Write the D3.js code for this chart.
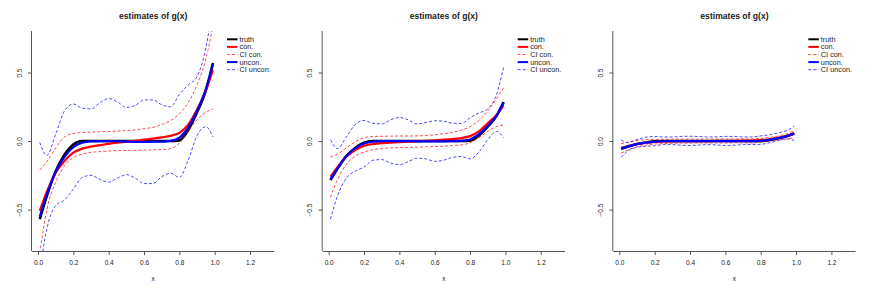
<!DOCTYPE html>
<html>
<head>
<meta charset="utf-8">
<script src="https://cdn.jsdelivr.net/npm/d3@7"></script>
<style>
body { margin: 0; background: #fff; }
text { font-family: "Liberation Sans", Arial, sans-serif; fill: #222; }
</style>
</head>
<body>
<script>
var svgWidth = 872;
var svgHeight = 291;
var panelWidth = svgWidth / 3;
var margins = {top: 31, right: 16.4, bottom: 40, left: 32};

// x grid shared by every curve
var xs = [0.01, 0.05, 0.10, 0.15, 0.20, 0.25, 0.30, 0.35, 0.40, 0.45, 0.50,
          0.55, 0.60, 0.65, 0.70, 0.75, 0.80, 0.85, 0.90, 0.95, 0.99];
var xTicks = [0, 0.2, 0.4, 0.6, 0.8, 1.0, 1.2];
var yTicks = [-0.5, 0, 0.5];
var legendLabels = ["truth", "con.", "CI con.", "uncon.", "CI uncon."];

// panel 1
var truth1 = [-0.57, -0.40, -0.22, -0.10, -0.025, 0, 0, 0, 0, 0, 0, 0, 0, 0, 0, 0, 0.005, 0.08, 0.21, 0.37, 0.57];
var con1 = [-0.51, -0.37, -0.23, -0.145, -0.085, -0.055, -0.04, -0.03, -0.02, -0.012, -0.005, 0.002, 0.01, 0.018, 0.027, 0.038, 0.06, 0.12, 0.23, 0.37, 0.52];
var ciConUp1 = [-0.21, -0.15, -0.05, 0.03, 0.055, 0.062, 0.065, 0.068, 0.07, 0.073, 0.077, 0.082, 0.09, 0.10, 0.12, 0.15, 0.20, 0.28, 0.41, 0.60, 0.84];
var ciConLo1 = [-0.82, -0.50, -0.30, -0.18, -0.12, -0.095, -0.082, -0.077, -0.073, -0.07, -0.068, -0.068, -0.066, -0.064, -0.062, -0.055, -0.015, 0.075, 0.155, 0.21, 0.235];
var uncon1 = [-0.55, -0.39, -0.225, -0.115, -0.045, -0.012, -0.002, 0, 0, -0.002, -0.004, -0.006, -0.006, -0.005, -0.004, 0.002, 0.025, 0.10, 0.22, 0.38, 0.56];
var ciUnconUp1 = [-0.01, -0.105, 0.05, 0.22, 0.27, 0.24, 0.235, 0.28, 0.31, 0.285, 0.245, 0.26, 0.30, 0.30, 0.265, 0.25, 0.34, 0.41, 0.47, 0.68, 1.0];
var ciUnconLo1 = [-0.95, -0.64, -0.47, -0.43, -0.35, -0.265, -0.25, -0.28, -0.30, -0.27, -0.245, -0.27, -0.31, -0.31, -0.26, -0.235, -0.265, -0.14, 0.04, 0.105, 0.03];

// panel 2
var truth2 = [-0.285, -0.20, -0.11, -0.05, -0.012, 0, 0, 0, 0, 0, 0, 0, 0, 0, 0, 0, 0.003, 0.04, 0.105, 0.185, 0.285];
var con2 = [-0.26, -0.19, -0.115, -0.065, -0.035, -0.022, -0.015, -0.012, -0.008, -0.005, -0.002, 0.002, 0.006, 0.01, 0.015, 0.022, 0.036, 0.07, 0.13, 0.19, 0.26];
var ciConUp2 = [-0.115, -0.095, -0.05, -0.005, 0.025, 0.033, 0.035, 0.036, 0.037, 0.037, 0.038, 0.04, 0.046, 0.053, 0.063, 0.08, 0.105, 0.15, 0.22, 0.31, 0.39];
var ciConLo2 = [-0.41, -0.28, -0.17, -0.11, -0.08, -0.063, -0.055, -0.05, -0.048, -0.046, -0.045, -0.042, -0.04, -0.037, -0.033, -0.028, -0.012, 0.025, 0.07, 0.105, 0.118];
var uncon2 = [-0.28, -0.20, -0.11, -0.052, -0.018, -0.004, 0, 0, 0, -0.001, -0.002, -0.002, -0.002, -0.002, -0.001, 0.001, 0.012, 0.05, 0.11, 0.185, 0.28];
var ciUnconUp2 = [0.01, -0.055, 0.03, 0.12, 0.15, 0.13, 0.125, 0.155, 0.172, 0.155, 0.125, 0.135, 0.148, 0.145, 0.13, 0.128, 0.17, 0.205, 0.235, 0.34, 0.54];
var ciUnconLo2 = [-0.57, -0.40, -0.27, -0.22, -0.19, -0.14, -0.135, -0.16, -0.172, -0.15, -0.125, -0.13, -0.148, -0.14, -0.12, -0.112, -0.13, -0.08, 0.01, 0.07, 0.025];

// panel 3
var truth3 = [-0.057, -0.040, -0.022, -0.010, -0.0025, 0, 0, 0, 0, 0, 0, 0, 0, 0, 0, 0, 0.0005, 0.008, 0.021, 0.037, 0.057];
var con3 = [-0.05, -0.037, -0.022, -0.012, -0.006, -0.003, -0.002, -0.001, -0.001, 0, 0, 0.001, 0.001, 0.002, 0.003, 0.004, 0.007, 0.013, 0.023, 0.037, 0.052];
var ciConUp3 = [-0.02, -0.008, 0.004, 0.01, 0.012, 0.013, 0.014, 0.014, 0.014, 0.014, 0.015, 0.015, 0.015, 0.015, 0.016, 0.016, 0.019, 0.026, 0.037, 0.055, 0.075];
var ciConLo3 = [-0.088, -0.065, -0.042, -0.03, -0.022, -0.018, -0.016, -0.015, -0.015, -0.014, -0.014, -0.014, -0.014, -0.013, -0.013, -0.013, -0.008, 0, 0.008, 0.016, 0.024];
var uncon3 = [-0.055, -0.039, -0.022, -0.011, -0.004, -0.001, 0, 0, 0, 0, 0, 0, 0, 0, 0, 0, 0.002, 0.009, 0.021, 0.036, 0.055];
var ciUnconUp3 = [0.008, -0.012, 0.012, 0.028, 0.033, 0.03, 0.03, 0.034, 0.035, 0.033, 0.03, 0.031, 0.034, 0.034, 0.03, 0.03, 0.038, 0.046, 0.06, 0.078, 0.11];
var ciUnconLo3 = [-0.118, -0.07, -0.045, -0.038, -0.034, -0.026, -0.026, -0.03, -0.032, -0.029, -0.026, -0.028, -0.032, -0.03, -0.026, -0.025, -0.024, -0.012, 0.005, 0.017, 0.004];

var panels = [
	[truth1, con1, ciConUp1, ciConLo1, uncon1, ciUnconUp1, ciUnconLo1],
	[truth2, con2, ciConUp2, ciConLo2, uncon2, ciUnconUp2, ciUnconLo2],
	[truth3, con3, ciConUp3, ciConLo3, uncon3, ciUnconUp3, ciUnconLo3]
];

// line styles in drawing order: truth, con, CI con (x2), uncon, CI uncon (x2)
var styles = [
	{color: "#000", width: 2.6, dash: null, op: 1},
	{color: "#f00", width: 2.2, dash: null, op: 1},
	{color: "#f00", width: 1, dash: "3,2", op: 0.7},
	{color: "#f00", width: 1, dash: "3,2", op: 0.7},
	{color: "#00f", width: 2.2, dash: null, op: 1},
	{color: "#00f", width: 1, dash: "3,2", op: 0.7},
	{color: "#00f", width: 1, dash: "3,2", op: 0.7}
];
var legendStyles = [styles[0], styles[1], styles[2], styles[4], styles[5]];

var svg = d3.select("body").append("svg")
	.attr("width", svgWidth)
	.attr("height", svgHeight);

var innerW = panelWidth - margins.left - margins.right;
var innerH = svgHeight - margins.top - margins.bottom;

var x = d3.scaleLinear().domain([-0.034, 1.337]).range([0, innerW]);
var y = d3.scaleLinear().domain([-0.802, 0.803]).range([innerH, 0]);

panels.forEach(function (series, p) {
	drawPanel(series, p);
});

function drawPanel(series, p) {
	var g = svg.append("g")
		.attr("transform", "translate(" + (p * panelWidth + margins.left) + "," + margins.top + ")");

	g.append("clipPath").attr("id", "clip" + p)
		.append("rect").attr("width", innerW).attr("height", innerH);

	var line = d3.line()
		.x(function (d, i) { return x(xs[i]); })
		.y(function (d) { return y(d); })
		.curve(d3.curveMonotoneX);

	var curves = g.append("g").attr("clip-path", "url(#clip" + p + ")");
	series.forEach(function (vals, k) {
		curves.append("path")
			.attr("d", line(vals))
			.attr("fill", "none")
			.attr("stroke", styles[k].color)
			.attr("stroke-opacity", styles[k].op)
			.attr("stroke-width", styles[k].width)
			.attr("stroke-dasharray", styles[k].dash)
			.attr("stroke-linejoin", "round");
	});

	// axes (L-shaped box)
	var xAxis = g.append("g")
		.attr("transform", "translate(0," + innerH + ")")
		.call(d3.axisBottom(x).tickValues(xTicks).tickFormat(d3.format(".1f")).tickSize(4).tickSizeOuter(0).tickPadding(5));
	var yAxis = g.append("g")
		.call(d3.axisLeft(y).tickValues(yTicks).tickFormat(d3.format(".1f")).tickSize(4).tickSizeOuter(0).tickPadding(3));
	xAxis.select(".domain").attr("d", "M0,0.5H" + innerW);
	yAxis.select(".domain").attr("d", "M-0.5,0V" + innerH);
	[xAxis, yAxis].forEach(function (a) {
		a.selectAll("path, line").attr("stroke", "#555").attr("stroke-width", 1);
		a.selectAll("text").attr("font-size", 6.5).attr("fill", "#333")
			.style("font-family", "'Liberation Sans', Arial, sans-serif");
	});
	yAxis.selectAll(".tick text")
		.attr("text-anchor", "middle")
		.attr("x", null).attr("dy", null)
		.attr("transform", "translate(-10.5,0) rotate(-90)");

	g.append("text")
		.attr("x", innerW / 2).attr("y", -12.5)
		.attr("text-anchor", "middle")
		.attr("font-size", 8.6).attr("font-weight", "bold")
		.text("estimates of g(x)");

	g.append("text")
		.attr("x", innerW / 2).attr("y", innerH + 29.5)
		.attr("text-anchor", "middle")
		.attr("font-size", 6.5).attr("fill", "#333")
		.text("x");

	// legend
	var lg = g.append("g").attr("transform", "translate(" + (227 - margins.left) + "," + (39.3 - margins.top) + ")");
	legendLabels.forEach(function (lab, i) {
		var s = legendStyles[i];
		lg.append("line")
			.attr("x1", 0).attr("x2", 10.5)
			.attr("y1", i * 7.6).attr("y2", i * 7.6)
			.attr("stroke", s.color)
			.attr("stroke-opacity", s.op)
			.attr("stroke-width", s.width === 1 ? 1 : 2)
			.attr("stroke-dasharray", s.dash);
		lg.append("text")
			.attr("x", 12.5).attr("y", i * 7.6)
			.attr("dy", "0.35em")
			.attr("font-size", 7.3).attr("fill", "#333")
			.text(lab);
	});
}
</script>
</body>
</html>
